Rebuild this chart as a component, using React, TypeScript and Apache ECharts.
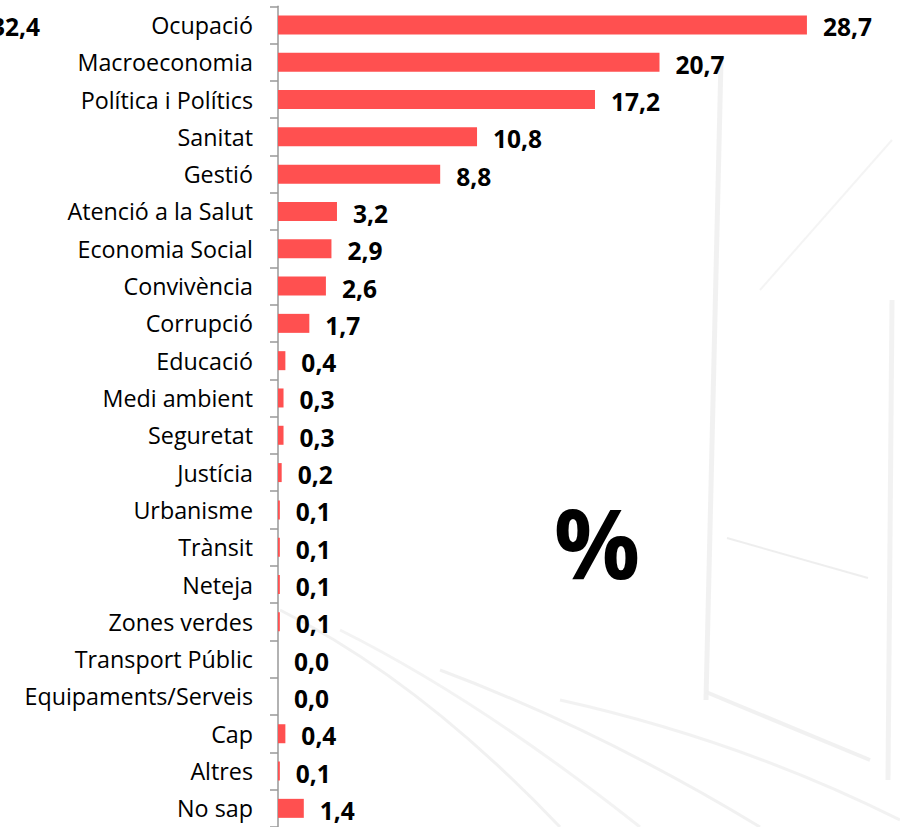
import React, { useEffect, useRef } from "react";
import * as echarts from "echarts";

const categories = [
  "Ocupació",
  "Macroeconomia",
  "Política i Polítics",
  "Sanitat",
  "Gestió",
  "Atenció a la Salut",
  "Economia Social",
  "Convivència",
  "Corrupció",
  "Educació",
  "Medi ambient",
  "Seguretat",
  "Justícia",
  "Urbanisme",
  "Trànsit",
  "Neteja",
  "Zones verdes",
  "Transport Públic",
  "Equipaments/Serveis",
  "Cap",
  "Altres",
  "No sap",
];

const values = [
  28.7, 20.7, 17.2, 10.8, 8.8, 3.2, 2.9, 2.6, 1.7, 0.4, 0.3, 0.3, 0.2, 0.1, 0.1,
  0.1, 0.1, 0.0, 0.0, 0.4, 0.1, 1.4,
];

const croppedLabel = "32,4";
const unitLabel = "%";

const fmt = (v: number) => v.toFixed(1).replace(".", ",");

export default function App() {
  const ref = useRef<HTMLDivElement>(null);

  useEffect(() => {
    if (!ref.current) return;
    const chart = echarts.init(ref.current, null, { renderer: "svg" });
    const faint = "#f0f0f0";
    const bg = (shape: any, stroke: string, lineWidth: number, type = "line") => ({
      type,
      silent: true,
      z: -10,
      shape,
      style: { stroke, lineWidth, fill: "none", opacity: 0.9 },
    });
    chart.setOption({
      animation: false,
      backgroundColor: "#ffffff",
      graphic: [
        // faint background sketch
        bg({ x1: 721, y1: 60, x2: 706, y2: 700 }, "#f0f0f0", 5),
        bg({ x1: 706, y1: 692, x2: 870, y2: 760 }, faint, 4),
        bg({ x1: 727, y1: 538, x2: 868, y2: 578 }, "#ececec", 2),
        bg({ x1: 892, y1: 300, x2: 888, y2: 780 }, "#f1f1f1", 5),
        bg({ x1: 892, y1: 140, x2: 760, y2: 290 }, "#f3f3f3", 2),
        bg({ x1: 280, y1: 610, x2: 560, y2: 827, cpx1: 420, cpy1: 680 }, faint, 3, "bezierCurve"),
        bg({ x1: 340, y1: 630, x2: 640, y2: 827, cpx1: 480, cpy1: 700 }, "#f2f2f2", 3, "bezierCurve"),
        bg({ x1: 440, y1: 670, x2: 760, y2: 827, cpx1: 600, cpy1: 730 }, faint, 3, "bezierCurve"),
        bg({ x1: 560, y1: 700, x2: 900, y2: 820, cpx1: 740, cpy1: 740 }, "#f1f1f1", 3, "bezierCurve"),
        {
          type: "text",
          x: 40,
          y: 26,
          style: {
            text: croppedLabel,
            fontFamily: "Open Sans",
            fontWeight: "bold",
            fontSize: 24.5,
            fill: "#000000",
            align: "right",
            verticalAlign: "middle",
          },
        },
        {
          type: "text",
          x: 597,
          y: 541,
          style: {
            text: unitLabel,
            fontFamily: "Open Sans",
            fontWeight: "bold",
            fontSize: 96,
            fill: "#000000",
            align: "center",
            verticalAlign: "middle",
          },
        },
      ],
      grid: { left: 278, top: 6.25, width: 622, height: 825, containLabel: false },
      xAxis: { type: "value", min: 0, max: 33.75, show: false },
      yAxis: {
        type: "category",
        data: categories,
        inverse: true,
        axisLine: { show: true, lineStyle: { color: "#999999", width: 1.5 } },
        axisTick: { show: true, length: 8, lineStyle: { color: "#999999", width: 1.5 } },
        axisLabel: {
          margin: 25,
          color: "#000000",
          fontFamily: "Open Sans",
          fontSize: 23.3,
          padding: [2, 0, 0, 0],
        },
        splitLine: { show: false },
      },
      series: [
        {
          type: "bar",
          data: values,
          barWidth: 19,
          itemStyle: { color: "#FF5050" },
          label: {
            show: true,
            position: "right",
            distance: 16,
            offset: [0, 2],
            formatter: (p: any) => fmt(p.value),
            color: "#000000",
            fontFamily: "Open Sans",
            fontWeight: "bold",
            fontSize: 24.5,
          },
        },
      ],
    });
    return () => chart.dispose();
  }, []);

  return (
    <div
      ref={ref}
      style={{ position: "absolute", left: 0, top: 0, width: 900, height: 827 }}
    />
  );
}
